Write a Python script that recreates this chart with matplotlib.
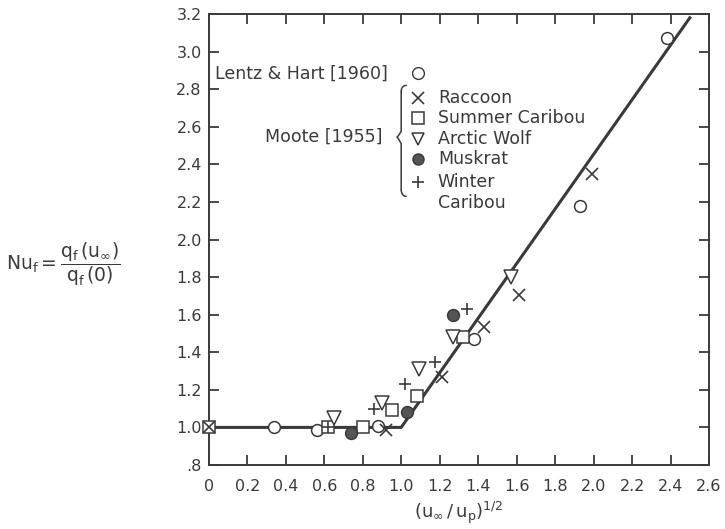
import numpy as np
import matplotlib.pyplot as plt

plt.rcParams['font.family'] = ['DejaVu Sans']
plt.rcParams['mathtext.fontset'] = 'dejavusans'

# Lentz & Hart [1960]
circle_x = [0.34, 0.56, 0.88, 1.38, 1.93, 2.38]
circle_y = [1.00, 0.985, 1.01, 1.47, 2.18, 3.07]
# Moote [1955]
raccoon_x = [0.0, 0.92, 1.21, 1.43, 1.61, 1.99]
raccoon_y = [1.00, 0.985, 1.27, 1.535, 1.705, 2.35]
summer_x = [0.0, 0.62, 0.80, 0.95, 1.08, 1.32]
summer_y = [1.00, 1.00, 1.00, 1.09, 1.165, 1.48]
wolf_x = [0.65, 0.90, 1.09, 1.27, 1.57]
wolf_y = [1.05, 1.13, 1.31, 1.48, 1.80]
muskrat_x = [0.74, 1.03, 1.27]
muskrat_y = [0.97, 1.08, 1.60]
winter_x = [0.62, 0.86, 1.02, 1.175, 1.34]
winter_y = [1.00, 1.10, 1.23, 1.35, 1.63]
# correlation line
fit_x = [0.0, 1.0, 2.5]
fit_y = [1.0, 1.0, 3.18]

xticks = np.arange(0, 2.61, 0.2)
yticks = np.arange(0.8, 3.21, 0.2)
ytick_labels = ['.8'] + ['%.1f' % v for v in yticks[1:]]

ink = '#3a3a3a'
fig = plt.figure(figsize=(7.25, 5.29), dpi=100)
ax = fig.add_axes([0.288, 0.121, 0.69, 0.8525])

ax.plot(fit_x, fit_y, color=ink, lw=2.2, zorder=2)
mk = dict(linestyle='none', markersize=8.5, color=ink, zorder=3, clip_on=False)
ax.plot(circle_x, circle_y, marker='o', mfc='white', mew=1.1, **mk)
ax.plot(summer_x, summer_y, marker='s', mfc='white', mew=1.1, **mk)
ax.plot(wolf_x, wolf_y, marker='v', mfc='white', mew=1.1, markersize=9.5, linestyle='none',
        color=ink, zorder=3)
ax.plot(muskrat_x, muskrat_y, marker='o', mfc='#555555', mew=1.1, **mk)
# line markers on top so they show through open symbols
ax.plot(raccoon_x, raccoon_y, marker='x', mew=1.2, markersize=8, color=ink,
        linestyle='none', zorder=4, clip_on=False)
ax.plot(winter_x, winter_y, marker='+', mew=1.2, markersize=8.5, color=ink,
        linestyle='none', zorder=4, clip_on=False)

ax.set_xlim(0, 2.6)
ax.set_ylim(0.8, 3.2)
ax.set_xticks(xticks)
ax.set_xticklabels(['0'] + ['%.1f' % v for v in xticks[1:]])
ax.set_yticks(yticks)
ax.set_yticklabels(ytick_labels)
ax.tick_params(direction='in', length=7, width=1.3, colors=ink, labelsize=11.5,
               top=True, right=True)
ax.tick_params(axis='x', pad=10)
ax.tick_params(axis='y', pad=5)
for s in ax.spines.values():
    s.set_color(ink)
    s.set_linewidth(1.4)

ax.set_xlabel(r'$(\mathrm{u}_\infty\,/\,\mathrm{u}_\mathrm{p})^{1/2}$', fontsize=13, color=ink, labelpad=4)
fig.text(0.008, 0.50, r'$\mathrm{Nu}_\mathrm{f} = \dfrac{\mathrm{q}_\mathrm{f}\,(\mathrm{u}_\infty)}{\mathrm{q}_\mathrm{f}\,(0)}$',
         fontsize=13.5, color=ink, va='center', ha='left')

# key
ax.text(0.03, 2.88, 'Lentz & Hart [1960]', fontsize=12.5, color=ink, va='center')
ax.plot([1.085], [2.885], marker='o', mfc='white', **mk)
ax.text(0.905, 2.545, 'Moote [1955]', fontsize=12.5, color=ink, va='center', ha='right')

# brace
bx = 1.0
ytop, ybot, ymid = 2.82, 2.23, 2.545
t = np.linspace(0, 1, 50)
w = 0.025
upper = np.concatenate([
    np.column_stack([bx + w - w * np.sin(t * np.pi / 2), ytop - 0.03 * (1 - np.cos(t * np.pi / 2))]),
    np.column_stack([np.full(10, bx), np.linspace(ytop - 0.03, ymid + 0.03, 10)]),
    np.column_stack([bx - w * np.sin(t * np.pi / 2) * 0.8, ymid + 0.03 - 0.03 * np.sin(t * np.pi / 2)]),
])
lower = upper.copy()
lower[:, 1] = 2 * ymid - lower[:, 1]
lower[:, 1] = ymid - (ymid - lower[:, 1]) * (ymid - ybot) / (ytop - ymid)
ax.plot(upper[:, 0], upper[:, 1], color=ink, lw=1.1)
ax.plot(lower[:, 0], lower[:, 1], color=ink, lw=1.1)

names = ['Raccoon', 'Summer Caribou', 'Arctic Wolf', 'Muskrat', 'Winter']
kmarks = [dict(marker='x', mew=1.2), dict(marker='s', mfc='white', mew=1.1),
          dict(marker='v', mfc='white', mew=1.1), dict(marker='o', mfc='#555555'),
          dict(marker='+', mew=1.2)]
key_y = [2.755, 2.645, 2.535, 2.43, 2.305]
for name, m, yy in zip(names, kmarks, key_y):
    ax.plot([1.085], [yy], linestyle='none', markersize=8, color=ink, **m)
    ax.text(1.19, yy, name, fontsize=12.5, color=ink, va='center')
ax.text(1.19, 2.195, 'Caribou', fontsize=12.5, color=ink, va='center')

fig.savefig('out.png', dpi=100, facecolor='white')
